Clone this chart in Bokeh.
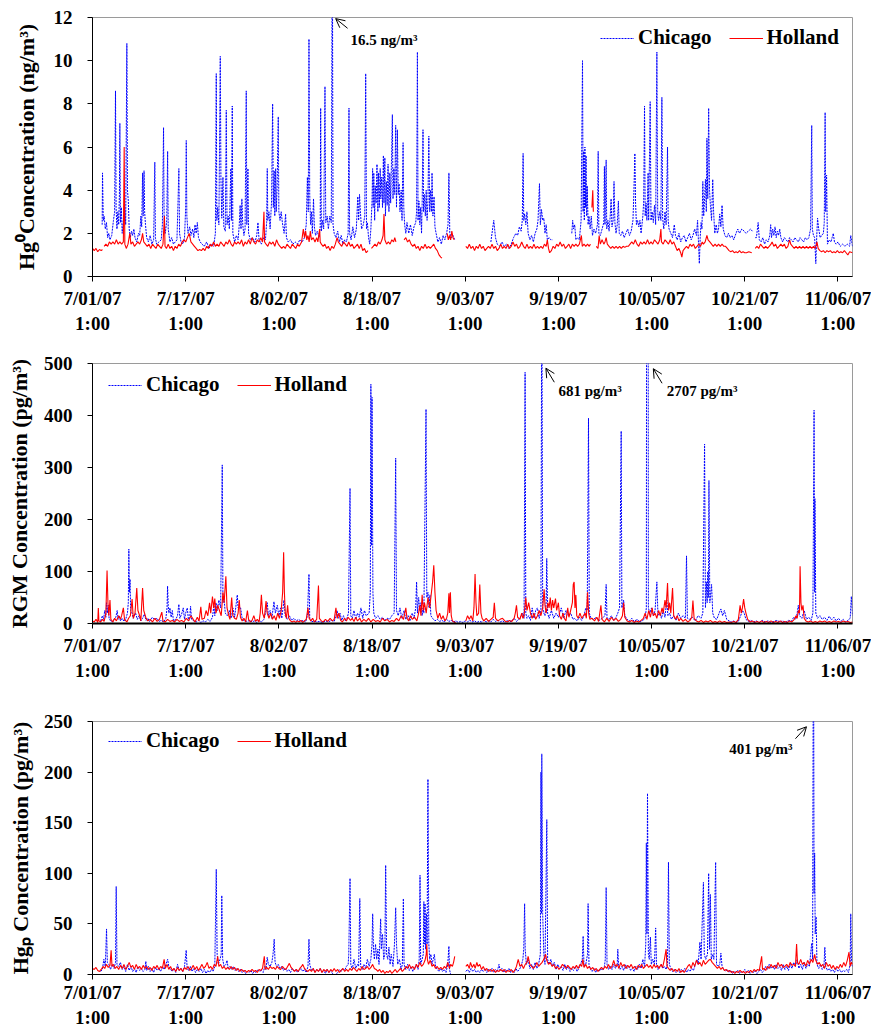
import numpy as np
from bokeh.plotting import figure
from bokeh.layouts import column
from bokeh.models import (ColumnDataSource, FixedTicker, Range1d, Legend, LegendItem,
                          Label, Arrow, OpenHead)
from bokeh.embed import file_html
from bokeh.resources import INLINE

nan = float("nan")

# x axis: days since 7/01/07 1:00
tick_days = [0, 16, 32, 48, 64, 80, 96, 112, 128]
tick_labels = ["7/01/07\n1:00", "7/17/07\n1:00", "8/02/07\n1:00", "8/18/07\n1:00",
               "9/03/07\n1:00", "9/19/07\n1:00", "10/05/07\n1:00", "10/21/07\n1:00",
               "11/06/07\n1:00"]

# ---------------- Hg0 (ng/m3) ----------------
chicago_hg0 = [
 (1.66,2.4),(1.72,4.8),(1.85,2.6),(2.0,2.8),(2.2,2.2),(2.4,2.5),(2.6,1.8),(2.8,2.0),(3.0,1.7),(3.3,1.9),
 (3.6,2.6),(3.8,3.0),(3.95,8.6),(4.05,3.2),(4.2,2.2),(4.35,3.0),(4.5,2.4),(4.62,3.8),(4.7,7.1),(4.8,2.5),
 (4.95,3.2),(5.1,2.0),(5.3,2.6),(5.5,3.4),(5.7,2.4),(5.9,10.8),(6.0,4.0),(6.15,3.5),(6.3,2.2),(6.5,1.8),
 (6.7,2.1),(6.9,1.9),(7.1,2.2),(7.3,1.8),(7.6,1.6),(7.9,2.0),(8.1,1.9),(8.3,2.8),(8.45,2.3),(8.6,4.8),
 (8.7,2.8),(8.85,4.9),(8.95,3.0),(9.1,2.4),(9.3,1.8),(9.6,1.6),(9.9,1.9),(10.2,1.5),(10.5,1.7),(10.7,5.3),
 (10.8,1.8),(11.0,1.5),(11.4,1.6),(11.8,1.7),(12.0,2.4),(12.2,6.9),(12.3,2.6),(12.5,2.0),(12.75,2.6),(12.9,5.8),
 (13.0,2.2),(13.3,1.6),(13.6,1.8),(13.9,1.5),(14.2,1.6),(14.5,1.7),(14.7,3.6),(14.83,5.0),(14.95,2.0),(15.2,1.6),
 (15.5,1.5),(15.8,1.8),(16.0,3.2),(16.1,6.3),(16.2,2.8),(16.4,2.0),(16.7,2.3),(16.9,1.9),(17.2,2.2),(17.4,1.8),
 (17.6,2.4),(17.8,2.0),(18.0,2.5),(18.2,1.8),(18.5,1.6),(18.8,1.5),(19.2,1.4),(19.6,1.6),(20.0,1.3),(20.4,1.5),
 (20.8,1.4),(21.1,2.0),(21.25,9.4),(21.35,2.6),(21.5,3.2),(21.7,2.4),(21.94,10.2),(22.05,4.6),(22.2,2.7),(22.4,4.6),
 (22.55,2.3),(22.8,2.1),(22.97,7.7),(23.1,2.4),(23.3,2.8),(23.5,2.2),(23.75,5.0),(23.85,2.6),(24.0,7.9),(24.1,2.0),
 (24.4,1.6),(24.7,1.9),(25.0,1.7),(25.2,2.4),(25.35,3.3),(25.5,2.2),(25.65,3.6),(25.8,2.4),(26.0,1.9),(26.2,2.2),
 (26.4,8.6),(26.5,2.4),(26.69,5.0),(26.8,2.0),(27.1,1.7),(27.5,1.8),(27.9,1.6),(28.2,1.9),(28.41,2.5),(28.6,1.7),
 (29.0,1.5),(29.4,1.8),(29.7,1.7),(29.9,2.5),(30.01,5.0),(30.1,2.6),(30.3,3.0),(30.5,2.2),(30.75,3.5),(30.93,8.0),
 (31.05,3.2),(31.2,4.9),(31.3,2.8),(31.45,5.0),(31.55,3.0),(31.7,4.2),(31.9,7.4),(32.0,3.0),(32.2,2.6),(32.4,3.0),
 (32.6,2.5),(32.9,2.0),(33.16,2.9),(33.3,1.8),(33.6,1.6),(34.0,1.7),(34.4,1.5),(34.8,1.6),(35.2,1.5),(35.6,1.7),
 (36.0,1.6),(36.4,1.8),(36.7,2.4),(36.9,4.6),(37.05,3.0),(37.17,11.0),(37.3,3.8),(37.45,2.4),(37.6,3.0),(37.75,2.0),
 (37.95,3.6),(38.1,2.3),(38.3,1.9),(38.6,2.1),(38.9,1.8),(39.1,2.3),(39.18,7.8),(39.3,2.1),(39.5,2.6),(39.7,2.2),
 (39.92,8.8),(40.05,2.5),(40.3,2.8),(40.5,2.2),(40.75,2.8),(41.0,2.5),(41.18,16.5),(41.3,2.4),(41.5,2.0),(41.8,1.8),
 (42.1,2.1),(42.4,1.6),(42.7,1.9),(43.0,1.5),(43.3,1.7),(43.6,1.6),(43.9,2.0),(44.04,7.8),(44.15,2.0),(44.4,1.7),
 (44.7,2.3),(45.0,1.8),(45.3,2.2),(45.55,3.7),(45.7,2.6),(45.85,3.8),(46.0,3.0),(46.2,2.2),(46.5,2.4),(46.75,2.8),
 (46.91,9.4),(47.05,2.2),(47.2,2.5),(47.4,1.8),(47.6,1.5),(47.8,2.2),(48.0,3.5),(48.1,5.0),(48.2,3.2),(48.3,4.8),
 (48.45,2.6),(48.55,4.2),(48.7,3.4),(48.85,5.2),(49.0,3.0),(49.1,4.8),(49.25,3.2),(49.4,5.0),(49.5,3.6),(49.65,4.6),
 (49.8,3.2),(49.95,5.6),(50.05,3.4),(50.2,5.5),(50.3,2.8),(50.45,4.4),(50.6,3.3),(50.75,5.2),(50.9,3.0),(51.05,4.8),
 (51.2,3.4),(51.35,5.5),(51.49,7.5),(51.6,3.6),(51.75,5.0),(51.9,3.8),(52.06,7.0),(52.2,3.2),(52.35,6.8),(52.5,3.8),
 (52.65,4.3),(52.8,3.0),(53.0,4.0),(53.15,2.6),(53.33,6.2),(53.45,3.2),(53.6,2.4),(53.8,2.0),(54.0,2.5),(54.3,2.0),
 (54.6,2.4),(54.9,1.9),(55.2,2.3),(55.5,2.5),(55.65,3.0),(55.79,10.4),(55.9,2.6),(56.05,3.5),(56.2,2.4),(56.35,3.2),
 (56.5,2.0),(56.62,3.6),(56.75,6.8),(56.85,3.0),(57.0,3.8),(57.15,2.8),(57.3,4.0),(57.45,2.6),(57.6,3.5),(57.75,6.5),
 (57.9,3.0),(58.05,4.0),(58.2,3.0),(58.3,4.8),(58.45,2.8),(58.65,3.7),(58.8,2.3),(59.0,2.0),(59.3,1.6),(59.6,1.8),
 (59.9,1.5),(60.2,1.9),(60.5,1.7),(60.8,2.0),(61.05,2.4),(61.2,4.8),(61.35,2.0),(61.6,1.8),(61.9,1.9),(62.2,1.7),
 (62.3,nan),
 (68.4,1.6),(68.6,2.0),(68.9,2.6),(69.2,1.8),(69.5,1.5),(69.9,1.4),(70.3,1.6),(70.7,1.4),(71.1,1.5),(71.5,1.3),
 (71.9,1.5),(72.3,1.8),(72.7,2.0),(73.0,1.9),(73.3,2.3),(73.6,2.1),(73.8,2.6),(73.94,5.7),(74.05,2.6),(74.2,2.9),
 (74.4,2.4),(74.6,3.0),(74.8,2.0),(75.1,1.7),(75.4,1.9),(75.7,1.6),(76.0,2.0),(76.3,2.2),(76.5,2.6),(76.75,4.3),
 (76.9,2.4),(77.1,3.1),(77.3,2.6),(77.5,2.7),(77.7,2.0),(77.9,2.4),(78.1,1.7),(78.4,1.8),(78.7,1.7),(79.0,1.7),
 (79.1,nan),
 (82.3,2.0),(82.45,2.6),(82.6,2.2),(82.8,2.4),(83.0,1.7),(83.3,1.8),(83.6,1.7),(83.9,2.6),(84.14,10.0),(84.25,3.0),
 (84.35,5.8),(84.45,2.6),(84.55,6.0),(84.65,3.2),(84.75,5.6),(84.85,2.8),(84.95,4.2),(85.1,2.4),(85.25,2.8),(85.45,2.2),
 (85.65,2.8),(85.85,1.9),(86.1,2.2),(86.4,2.0),(86.7,2.4),(86.83,5.8),(86.95,2.0),(87.2,1.9),(87.5,2.2),(87.8,2.5),
 (87.9,5.1),(88.0,2.4),(88.2,5.4),(88.3,2.2),(88.5,2.6),(88.7,2.1),(88.9,2.8),(89.05,3.6),(89.2,2.3),(89.4,2.6),
 (89.55,4.4),(89.7,2.5),(89.9,2.0),(90.1,2.4),(90.3,3.5),(90.45,2.0),(90.7,1.9),(91.0,2.1),(91.3,1.8),(91.6,2.0),
 (91.9,2.2),(92.2,1.9),(92.5,2.1),(92.8,2.6),(92.95,3.8),(93.13,5.7),(93.25,3.4),(93.4,2.4),(93.6,2.6),(93.8,2.3),
 (94.0,2.6),(94.2,2.0),(94.5,2.8),(94.65,3.5),(94.79,7.9),(94.9,2.8),(95.05,3.4),(95.2,2.6),(95.4,4.8),(95.5,2.6),
 (95.76,8.1),(95.9,2.6),(96.1,3.0),(96.3,2.5),(96.5,3.3),(96.7,2.4),(96.91,10.4),(97.05,3.0),(97.2,2.6),(97.4,3.0),
 (97.6,2.6),(97.77,8.3),(97.9,2.7),(98.1,2.2),(98.3,3.0),(98.5,2.4),(98.74,6.0),(98.85,2.6),(99.0,2.2),(99.3,2.0),
 (99.6,1.8),(99.9,2.4),(100.1,1.9),(100.4,1.7),(100.7,2.0),(101.0,1.6),(101.3,1.8),(101.6,1.9),(101.9,1.6),(102.2,1.8),
 (102.5,2.0),(102.8,1.7),(103.1,1.9),(103.4,2.2),(103.7,1.9),(103.9,2.6),(104.2,0.6),(104.35,1.8),(104.5,2.5),(104.65,2.2),
 (104.8,4.4),(104.95,2.8),(105.1,3.6),(105.25,4.5),(105.4,3.0),(105.5,6.4),(105.65,3.6),(105.8,7.8),(105.95,4.0),(106.1,3.3),
 (106.3,2.6),(106.5,4.5),(106.65,3.0),(106.85,2.0),(107.1,2.4),(107.3,2.0),(107.5,2.2),(107.7,2.9),(107.9,2.3),(108.1,3.3),
 (108.3,2.2),(108.6,1.9),(108.9,1.8),(109.2,2.0),(109.5,1.8),(109.8,1.9),(110.1,1.7),(110.5,2.0),(110.8,2.2),(111.1,2.0),
 (111.5,2.2),(111.9,2.1),(112.2,2.0),(112.6,2.1),(113.0,2.2),(113.3,2.1),(113.4,nan),
 (113.8,1.8),(114.0,1.8),(114.3,2.5),(114.5,1.7),(114.8,1.6),(115.1,1.8),(115.4,1.5),(115.7,1.7),(116.0,1.6),(116.3,1.9),
 (116.45,2.4),(116.6,1.8),(116.8,2.2),(117.0,1.9),(117.2,2.3),(117.4,1.8),(117.6,2.1),(117.8,1.9),(118.0,2.2),(118.2,1.8),
 (118.5,1.6),(118.8,1.8),(119.1,1.7),(119.4,1.6),(119.7,1.8),(120.0,1.7),(120.3,1.6),(120.6,1.8),(120.9,1.7),(121.2,1.6),
 (121.5,1.8),(121.8,1.7),(122.1,1.6),(122.4,1.8),(122.7,1.7),(123.0,1.8),(123.3,2.2),(123.5,7.0),(123.6,2.2),(123.8,1.9),
 (124.0,1.8),(124.2,0.6),(124.35,1.8),(124.5,2.7),(124.7,2.2),(124.95,1.8),(125.2,1.9),(125.5,2.0),(125.65,2.5),(125.8,7.6),
 (125.9,3.0),(126.05,4.7),(126.2,1.5),(126.5,1.7),(126.8,1.6),(127.0,1.8),(127.2,2.0),(127.4,1.6),(127.7,1.5),(128.0,1.6),
 (128.4,1.4),(128.8,1.5),(129.2,1.4),(129.6,1.5),(130.0,1.4),(130.2,1.9),(130.5,1.4)]

holland_hg0 = [
 (0.0,1.3),(0.3,1.2),(0.6,1.3),(0.9,1.15),(1.2,1.25),(1.5,1.2),(1.7,1.25),(1.8,nan),(2.0,1.4),(2.3,1.5),
 (2.6,1.4),(2.9,1.6),(3.2,1.5),(3.5,1.6),(3.8,1.5),(4.1,1.7),(4.4,1.5),(4.7,1.6),(5.0,1.5),(5.3,1.6),
 (5.44,6.0),(5.55,1.5),(5.8,1.3),(6.1,1.5),(6.4,2.0),(6.6,1.5),(6.9,1.6),(7.2,1.4),(7.5,1.5),(7.8,1.6),
 (8.1,1.5),(8.4,1.7),(8.6,2.0),(8.8,1.6),(9.1,1.5),(9.4,1.4),(9.7,1.5),(10.0,1.3),(10.3,1.5),(10.6,1.4),
 (10.9,1.3),(11.2,1.5),(11.5,1.4),(11.8,1.3),(12.1,1.5),(12.35,2.8),(12.45,1.4),(12.7,1.3),(13.0,1.5),(13.3,1.3),
 (13.6,1.4),(13.9,1.2),(14.2,1.4),(14.5,1.3),(14.8,1.5),(15.1,1.4),(15.4,1.6),(15.7,1.7),(16.0,1.6),(16.3,1.8),
 (16.6,2.0),(16.9,1.6),(17.2,1.5),(17.5,1.4),(17.8,1.3),(18.1,1.2),(18.4,1.25),(18.7,1.2),(19.0,1.3),(19.3,1.2),
 (19.6,1.4),(19.9,1.3),(20.2,1.5),(20.5,1.4),(20.8,1.6),(21.1,1.4),(21.4,1.5),(21.7,1.4),(22.0,1.6),(22.3,1.5),
 (22.6,1.4),(22.9,1.6),(23.2,1.5),(23.5,1.7),(23.8,1.5),(24.1,1.4),(24.4,1.6),(24.7,1.5),(25.0,1.6),(25.3,1.5),
 (25.6,1.7),(25.9,1.4),(26.2,1.6),(26.5,1.5),(26.8,1.7),(27.1,1.5),(27.4,1.8),(27.7,1.6),(28.0,1.5),(28.3,1.7),
 (28.6,1.6),(28.9,1.8),(29.2,1.6),(29.44,3.0),(29.55,1.6),(29.8,1.5),(30.1,1.4),(30.4,1.6),(30.7,1.5),(31.0,1.6),
 (31.3,1.4),(31.6,1.7),(31.9,1.5),(32.2,1.4),(32.5,1.3),(32.8,1.4),(33.1,1.3),(33.4,1.5),(33.7,1.4),(34.0,1.3),
 (34.3,1.5),(34.6,1.4),(34.9,1.3),(35.2,1.5),(35.5,1.4),(35.9,1.6),(36.2,2.2),(36.4,1.8),(36.6,2.1),(36.8,1.7),
 (37.0,1.9),(37.2,1.6),(37.4,2.1),(37.6,1.7),(37.9,1.8),(38.2,1.6),(38.5,1.8),(38.7,1.6),(39.0,2.2),(39.1,1.6),
 (39.3,1.5),(39.6,1.4),(39.9,1.5),(40.2,1.3),(40.5,1.4),(40.8,1.2),(41.1,1.4),(41.4,1.3),(41.7,1.5),(42.0,1.8),
 (42.2,1.6),(42.5,1.5),(42.8,1.4),(43.1,1.6),(43.4,1.5),(43.7,1.4),(44.0,1.6),(44.3,1.4),(44.6,1.5),(44.9,1.3),
 (45.2,1.4),(45.5,1.5),(45.8,1.3),(46.1,1.5),(46.4,1.2),(46.7,1.3),(47.0,1.1),(47.3,1.2),(47.5,nan),(47.9,1.3),
 (48.2,1.4),(48.5,1.5),(48.8,1.4),(49.1,1.6),(49.4,1.5),(49.7,1.7),(49.9,1.9),(50.05,2.9),(50.2,1.7),(50.5,1.5),
 (50.8,1.6),(51.1,1.5),(51.4,1.7),(51.7,1.6),(51.9,1.8),(52.1,1.6),(52.3,nan),(53.5,1.7),(53.8,1.8),(54.1,1.6),
 (54.4,1.7),(54.7,1.5),(55.0,1.4),(55.3,1.5),(55.6,1.3),(55.9,1.4),(56.2,1.2),(56.5,1.4),(56.8,1.3),(57.1,1.5),
 (57.4,1.3),(57.7,1.4),(58.0,1.3),(58.3,1.4),(58.6,1.5),(58.9,1.3),(59.2,1.2),(59.5,1.0),(59.8,0.9),(60.0,0.85),
 (60.2,nan),(60.9,2.0),(61.1,1.7),(61.3,1.9),(61.5,1.7),(61.7,2.1),(61.9,1.8),(62.1,1.7),(62.2,nan),
 (64.1,1.4),(64.4,1.3),(64.7,1.5),(65.0,1.3),(65.3,1.4),(65.6,1.2),(65.9,1.4),(66.2,1.3),(66.5,1.5),(66.8,1.3),
 (67.1,1.4),(67.4,1.2),(67.7,1.3),(68.0,1.4),(68.3,1.3),(68.6,1.5),(68.9,1.3),(69.2,1.4),(69.5,1.2),(69.8,1.3),
 (70.1,1.5),(70.4,1.3),(70.7,1.4),(71.0,1.3),(71.3,1.5),(71.6,1.3),(71.9,1.4),(72.2,1.6),(72.5,1.4),(72.8,1.5),
 (73.1,1.3),(73.4,1.4),(73.7,1.6),(74.0,1.4),(74.3,1.3),(74.6,1.5),(74.9,1.3),(75.2,1.4),(75.5,1.3),(75.8,1.5),
 (76.1,1.3),(76.4,1.4),(76.7,1.3),(77.0,1.4),(77.3,1.3),(77.6,1.5),(77.9,1.4),(78.1,1.7),(78.3,1.3),(78.5,1.1),
 (78.8,1.2),(79.1,1.4),(79.4,1.3),(79.7,1.5),(80.0,1.4),(80.3,1.6),(80.6,1.4),(80.9,1.5),(81.2,1.3),(81.5,1.4),
 (81.8,1.5),(82.1,1.3),(82.4,1.5),(82.7,1.4),(83.0,1.5),(83.3,1.4),(83.6,1.5),(83.95,1.9),(84.1,1.4),(84.4,1.5),
 (84.7,1.4),(85.0,1.5),(85.3,1.4),(85.5,1.5),(85.6,nan),(85.75,3.2),(85.9,4.0),(86.0,3.0),(86.2,nan),(86.5,1.4),
 (86.8,1.3),(87.0,1.9),(87.2,1.5),(87.5,1.7),(87.8,1.5),(88.0,1.6),(88.2,1.8),(88.4,1.5),(88.7,1.4),(89.0,1.3),
 (89.3,1.4),(89.6,1.3),(89.9,1.4),(90.2,1.3),(90.5,1.4),(90.8,1.3),(91.1,1.4),(91.4,1.35),(91.7,1.4),(92.0,1.4),
 (92.3,1.5),(92.6,1.6),(92.9,1.5),(93.2,1.7),(93.5,1.5),(93.8,1.4),(94.1,1.6),(94.4,1.5),(94.7,1.6),(95.0,1.5),
 (95.3,1.7),(95.6,1.5),(95.9,1.6),(96.2,1.5),(96.5,1.7),(96.8,1.6),(97.1,1.5),(97.4,1.7),(97.6,2.2),(97.7,1.6),
 (98.0,1.5),(98.3,1.7),(98.6,1.6),(98.9,1.5),(99.2,1.7),(99.5,1.5),(99.8,1.6),(100.1,1.4),(100.4,1.2),(100.7,1.3),
 (101.0,1.1),(101.2,0.9),(101.4,1.2),(101.7,1.3),(102.0,1.4),(102.3,1.3),(102.6,1.5),(102.9,1.4),(103.2,1.5),(103.5,1.3),
 (103.8,1.4),(104.1,1.5),(104.4,1.4),(104.7,1.6),(104.9,1.5),(105.2,1.6),(105.5,1.9),(105.7,1.7),(106.0,1.6),(106.3,1.5),
 (106.6,1.4),(106.9,1.5),(107.2,1.4),(107.5,1.5),(107.8,1.4),(108.1,1.5),(108.4,1.4),(108.7,1.4),(109.0,1.3),(109.3,1.2),
 (109.6,1.15),(109.9,1.2),(110.2,1.1),(110.5,1.15),(110.8,1.1),(111.1,1.2),(111.4,1.1),(111.7,1.15),(112.0,1.1),(112.3,1.1),
 (112.7,1.15),(113.2,1.1),(113.4,nan),(113.8,1.3),(114.1,1.4),(114.4,1.3),(114.7,1.5),(115.0,1.4),(115.3,1.3),(115.6,1.4),
 (115.9,1.3),(116.2,1.4),(116.5,1.5),(116.7,1.6),(117.0,1.4),(117.3,1.5),(117.6,1.3),(117.9,1.4),(118.2,1.5),(118.5,1.4),
 (118.8,1.5),(119.1,1.3),(119.4,1.4),(119.7,1.7),(119.9,1.5),(120.2,1.4),(120.5,1.3),(120.8,1.4),(121.1,1.3),(121.4,1.4),
 (121.7,1.3),(122.0,1.4),(122.3,1.3),(122.6,1.4),(122.9,1.3),(123.2,1.4),(123.5,1.3),(123.8,1.4),(124.1,1.3),(124.4,1.6),
 (124.6,1.3),(124.9,1.2),(125.2,1.15),(125.5,1.2),(125.8,1.1),(126.1,1.2),(126.4,1.15),(126.7,1.2),(127.0,1.1),(127.3,1.15),
 (127.6,1.1),(127.9,1.2),(128.2,1.1),(128.5,1.15),(128.8,1.1),(129.1,1.2),(129.4,1.1),(129.7,1.0),(130.0,1.15),(130.5,1.1)]

# ---------------- RGM (pg/m3) ----------------
chicago_rgm = [
 (1.4,5),(1.7,15),(1.9,8),(2.1,25),(2.3,12),(2.41,40),(2.55,20),(2.7,35),(2.85,10),(3.1,5),(3.4,3),(3.7,8),(4.0,12),
 (4.24,25),(4.4,8),(4.6,15),(4.8,5),(5.1,10),(5.4,4),(5.7,8),(6.0,20),(6.15,40),(6.24,143),(6.35,60),(6.45,85),
 (6.55,25),(6.8,20),(7.0,10),(7.4,20),(7.7,8),(8.0,15),(8.3,5),(8.6,10),(8.9,18),(9.2,6),(9.5,10),(9.8,4),(10.25,12),
 (10.6,8),(11.1,10),(11.4,4),(11.8,6),(12.2,3),(12.6,10),(12.8,30),(12.89,72),(13.0,35),(13.12,20),(13.3,30),(13.5,12),
 (13.7,25),(13.9,5),(14.3,8),(14.6,15),(14.83,37),(15.0,10),(15.3,18),(15.58,30),(15.8,8),(16.0,20),(16.27,30),(16.5,5),
 (16.7,12),(16.84,33),(17.0,8),(17.41,5),(17.8,3),(18.2,6),(18.6,2),(19.0,5),(19.4,3),(19.8,8),(20.2,4),(20.6,12),
 (20.85,35),(21.0,15),(21.2,40),(21.42,25),(21.7,45),(22.0,30),(22.28,305),(22.4,40),(22.57,50),(22.8,20),(23.14,15),
 (23.5,25),(23.8,10),(24.1,30),(24.4,12),(24.7,40),(24.86,55),(25.0,30),(25.43,30),(25.7,10),(26.0,5),(26.57,4),(27.0,6),
 (27.4,3),(27.8,5),(28.2,2),(28.6,6),(29.0,3),(29.44,8),(29.7,20),(30.01,40),(30.2,15),(30.5,25),(30.8,10),(31.16,42),
 (31.4,20),(31.73,35),(32.0,15),(32.3,30),(32.5,10),(32.88,45),(33.1,15),(33.45,8),(33.8,15),(34.2,6),(34.59,10),(35.0,5),
 (35.4,8),(35.8,4),(36.2,6),(36.6,3),(36.9,15),(37.17,95),(37.3,10),(37.6,3),(38.0,5),(38.5,3),(39.0,4),(39.5,2),(40.0,5),
 (40.5,3),(41.0,6),(41.5,4),(41.8,15),(42.0,25),(42.2,10),(42.5,20),(42.8,6),(43.1,15),(43.4,5),(43.7,10),(43.95,20),
 (44.22,260),(44.35,15),(44.6,10),(44.9,25),(45.2,8),(45.5,20),(45.8,12),(46.1,30),(46.4,10),(46.7,25),(47.0,15),(47.5,20),
 (47.7,60),(47.8,460),(47.9,150),(48.0,435),(48.15,60),(48.3,20),(48.6,10),(49.0,15),(49.4,8),(49.8,12),(50.2,6),(50.6,10),
 (51.0,8),(51.4,15),(51.8,20),(52.06,318),(52.2,25),(52.5,15),(52.8,30),(53.1,10),(53.5,25),(53.8,8),(54.2,15),(54.5,5),
 (54.9,20),(55.2,10),(55.5,30),(55.65,80),(55.8,20),(56.0,50),(56.2,25),(56.4,40),(56.6,15),(56.75,30),(56.9,20),(57.27,412),
 (57.4,50),(57.6,60),(57.8,30),(57.95,55),(58.1,15),(58.4,10),(58.8,5),(59.2,8),(59.6,4),(60.0,6),(60.4,3),(60.8,8),(61.2,4),
 (61.6,6),(62.0,3),(62.4,5),(62.8,2),(63.2,4),(63.6,2),(64.0,5),(64.4,3),(64.8,6),(65.2,3),(65.6,5),(66.0,2),(66.4,4),
 (66.8,3),(67.2,6),(67.6,3),(68.0,5),(68.4,3),(68.8,8),(69.2,4),(69.6,6),(70.0,3),(70.4,5),(70.8,2),(71.2,6),(71.6,3),
 (72.0,5),(72.4,10),(72.8,4),(73.2,8),(73.6,15),(73.9,20),(74.1,10),(74.28,483),(74.4,20),(74.6,10),(74.9,15),(75.2,6),
 (75.5,30),(75.8,10),(76.1,25),(76.4,30),(76.7,10),(77.0,25),(77.15,681),(77.3,30),(77.5,20),(77.7,15),(77.9,40),(78.0,125),
 (78.15,20),(78.4,10),(78.8,25),(79.2,10),(79.6,20),(80.0,12),(80.5,30),(80.9,10),(81.3,25),(81.7,15),(82.1,20),(82.5,8),
 (82.8,10),(83.2,5),(83.6,12),(84.0,6),(84.4,15),(84.7,30),(84.95,25),(85.17,395),(85.3,20),(85.6,10),(86.0,8),(86.5,12),
 (87.0,6),(87.5,10),(88.0,15),(88.2,75),(88.35,10),(88.7,8),(89.1,15),(89.5,6),(89.9,12),(90.2,20),(90.5,30),(90.78,370),
 (90.9,30),(91.2,45),(91.4,15),(91.8,8),(92.2,5),(92.6,10),(93.0,4),(93.5,8),(94.0,3),(94.5,6),(94.9,10),(95.1,30),
 (95.3,2707),(95.45,30),(95.7,20),(96.0,30),(96.3,15),(96.6,25),(96.91,80),(97.1,15),(97.4,20),(97.7,10),(98.0,25),(98.3,12),
 (98.6,45),(98.8,15),(99.1,20),(99.4,8),(99.8,15),(100.2,6),(100.6,20),(101.0,10),(101.4,15),(101.8,10),(102.0,130),
 (102.15,10),(102.5,8),(103.0,12),(103.5,5),(104.0,15),(104.5,10),(104.8,20),(105.1,345),(105.25,30),(105.4,80),(105.55,40),
 (105.65,100),(105.75,50),(105.85,275),(106.0,40),(106.3,75),(106.5,20),(106.8,10),(107.2,8),(107.6,20),(107.9,28),(108.2,15),
 (108.5,25),(108.9,8),(109.3,5),(109.7,3),(110.1,5),(110.5,2),(110.9,4),(111.3,15),(111.6,25),(111.9,20),(112.2,8),(112.6,4),
 (113.0,6),(113.5,3),(114.0,5),(114.5,2),(115.0,6),(115.5,3),(116.0,5),(116.5,2),(117.0,4),(117.5,6),(118.0,3),(118.5,5),
 (119.0,2),(119.5,6),(120.0,4),(120.4,12),(120.8,8),(121.0,20),(121.2,35),(121.4,15),(121.8,10),(122.2,25),(122.6,8),
 (123.0,12),(123.4,6),(123.7,20),(123.9,410),(124.0,60),(124.05,240),(124.2,20),(124.5,10),(124.9,15),(125.3,8),(125.7,12),
 (126.1,6),(126.5,14),(126.9,7),(127.3,12),(127.7,5),(128.1,10),(128.5,4),(128.9,8),(129.3,3),(129.7,6),(130.1,10),
 (130.3,52),(130.5,15)]

holland_rgm = [
 (0.0,5),(0.3,3),(0.6,8),(0.9,2),(1.0,30),(1.1,5),(1.4,3),(1.7,8),(2.0,4),(2.3,20),(2.5,102),(2.65,40),(2.8,15),(3.0,45),
 (3.15,8),(3.5,3),(3.8,10),(4.1,5),(4.5,15),(4.8,8),(5.0,15),(5.3,30),(5.5,8),(5.9,3),(6.2,10),(6.5,15),(6.8,47),(7.0,10),
 (7.3,20),(7.6,68),(7.8,25),(8.1,15),(8.3,5),(8.6,68),(8.8,25),(9.2,10),(9.5,5),(9.9,8),(10.3,3),(10.7,10),(11.1,4),(11.5,8),
 (11.9,22),(12.1,5),(12.5,3),(12.9,8),(13.3,4),(13.7,6),(14.1,3),(14.5,8),(14.9,4),(15.3,6),(15.7,3),(16.1,10),(16.5,5),
 (16.9,15),(17.3,8),(17.6,3),(18.0,12),(18.3,5),(18.6,32),(18.8,8),(19.2,10),(19.5,25),(19.8,15),(20.1,40),(20.3,20),
 (20.6,52),(20.8,30),(21.0,48),(21.2,20),(21.5,35),(21.8,25),(22.1,15),(22.4,60),(22.6,40),(22.9,91),(23.1,30),(23.4,15),
 (23.6,8),(23.9,50),(24.1,15),(24.4,10),(24.7,8),(25.0,20),(25.2,45),(25.4,12),(25.7,5),(26.0,10),(26.3,3),(26.6,25),
 (26.8,8),(27.1,3),(27.4,6),(27.7,15),(28.0,4),(28.3,8),(28.6,3),(28.8,20),(29.0,55),(29.2,20),(29.5,10),(29.8,43),(30.0,20),
 (30.3,10),(30.6,20),(30.9,8),(31.2,15),(31.5,6),(31.8,20),(32.1,10),(32.4,25),(32.65,60),(32.82,137),(32.95,60),(33.1,20),
 (33.3,10),(33.5,35),(33.7,10),(34.0,5),(34.3,3),(34.6,5),(34.9,2),(35.2,5),(35.5,3),(35.8,6),(36.1,2),(36.4,5),(36.7,8),
 (37.0,30),(37.2,10),(37.5,5),(37.8,10),(38.1,3),(38.5,8),(38.8,73),(38.95,10),(39.3,5),(39.6,3),(40.0,8),(40.4,4),(40.8,10),
 (41.2,5),(41.5,8),(41.8,30),(42.0,10),(42.3,20),(42.6,6),(42.9,3),(43.3,10),(43.6,5),(43.9,12),(44.3,6),(44.6,10),(44.9,4),
 (45.2,12),(45.5,5),(45.9,10),(46.2,3),(46.6,8),(47.0,4),(47.4,10),(47.8,3),(48.2,8),(48.6,4),(49.0,6),(49.4,3),(49.8,10),
 (50.2,5),(50.6,8),(51.0,3),(51.4,6),(51.8,4),(52.2,10),(52.6,5),(53.0,15),(53.4,8),(53.8,30),(54.0,10),(54.3,5),(54.6,15),
 (54.9,8),(55.3,12),(55.7,5),(56.0,20),(56.2,35),(56.4,15),(56.6,55),(56.8,25),(57.0,40),(57.3,20),(57.6,50),(57.9,30),
 (58.2,60),(58.4,80),(58.6,112),(58.8,60),(59.0,25),(59.3,10),(59.6,20),(59.9,8),(60.2,15),(60.5,5),(60.8,10),(61.0,20),
 (61.2,58),(61.3,20),(61.45,60),(61.6,15),(61.8,5),(62.1,3),(62.4,0),(62.6,nan),
 (64.1,5),(64.4,15),(64.7,8),(65.0,15),(65.3,5),(65.5,30),(65.69,95),(65.85,40),(66.0,15),(66.3,20),(66.5,75),(66.7,20),
 (66.9,10),(67.2,5),(67.6,10),(68.0,4),(68.4,8),(68.8,12),(69.0,40),(69.2,10),(69.6,5),(70.0,8),(70.4,10),(70.8,5),(71.2,3),
 (71.6,6),(72.0,4),(72.4,10),(72.6,20),(72.8,35),(73.0,12),(73.4,8),(73.7,20),(73.9,10),(74.1,15),(74.4,50),(74.6,25),
 (74.9,40),(75.2,20),(75.5,10),(75.8,20),(76.1,8),(76.4,15),(76.7,25),(77.0,15),(77.3,30),(77.55,66),(77.7,35),(77.9,20),
 (78.2,40),(78.4,30),(78.6,50),(78.8,25),(79.0,45),(79.2,30),(79.5,48),(79.7,25),(80.0,40),(80.2,15),(80.5,8),(80.8,20),
 (81.0,10),(81.3,5),(81.6,30),(81.8,12),(82.0,20),(82.4,40),(82.55,75),(82.7,80),(82.85,30),(83.0,55),(83.15,15),(83.4,10),
 (83.7,20),(84.0,10),(84.3,15),(84.6,20),(84.8,10),(85.0,60),(85.2,20),(85.4,8),(85.8,10),(86.2,5),(86.6,12),(86.9,4),
 (87.3,35),(87.5,8),(87.9,3),(88.3,10),(88.7,4),(89.1,12),(89.5,6),(89.9,10),(90.3,4),(90.7,8),(91.0,15),(91.2,40),(91.4,12),
 (91.8,5),(92.2,3),(92.6,6),(93.0,2),(93.4,5),(93.8,3),(94.2,6),(94.6,10),(94.9,20),(95.2,8),(95.5,25),(95.8,12),(96.1,30),
 (96.3,15),(96.6,20),(96.9,10),(97.2,25),(97.5,15),(97.8,30),(98.0,20),(98.3,45),(98.5,30),(98.74,78),(98.9,25),(99.1,40),
 (99.3,20),(99.6,68),(99.8,15),(100.1,8),(100.4,15),(100.7,5),(101.0,10),(101.4,4),(101.8,8),(102.2,3),(102.6,6),(102.9,12),
 (103.1,44),(103.3,10),(103.7,5),(104.1,3),(104.5,6),(104.9,2),(105.3,5),(105.7,3),(106.1,6),(106.5,2),(106.9,4),(107.3,2),
 (107.7,5),(108.1,2),(108.5,4),(108.9,2),(109.3,3),(109.7,2),(110.1,4),(110.5,2),(110.9,8),(111.2,35),(111.4,20),(111.6,30),
 (111.8,47),(112.0,30),(112.2,20),(112.5,8),(112.9,3),(113.3,5),(113.7,2),(114.1,4),(114.5,2),(114.9,5),(115.3,2),(115.7,4),
 (116.1,2),(116.5,5),(116.9,2),(117.3,4),(117.7,2),(118.1,5),(118.5,2),(118.9,4),(119.3,2),(119.7,5),(120.1,3),(120.5,8),
 (120.8,15),(121.0,10),(121.2,25),(121.4,20),(121.5,110),(121.65,40),(121.8,25),(122.0,35),(122.2,10),(122.5,5),(122.9,3),
 (123.3,5),(123.7,2),(124.1,4),(124.5,2),(124.9,5),(125.3,3),(125.7,5),(126.1,2),(126.5,4),(126.9,2),(127.3,5),(127.7,3),
 (128.1,4),(128.5,2),(128.9,5),(129.3,3),(129.7,4),(130.1,2),(130.5,3)]

# ---------------- Hgp (pg/m3) ----------------
chicago_hgp = [
 (1.4,3),(1.7,5),(1.95,15),(2.2,8),(2.41,45),(2.55,12),(2.8,10),(3.1,5),(3.4,10),(3.7,6),(3.95,12),(4.07,87),(4.2,10),
 (4.5,8),(4.8,12),(5.1,5),(5.4,8),(5.7,3),(6.0,10),(6.3,4),(6.6,8),(6.9,3),(7.2,6),(7.5,2),(7.8,8),(8.1,4),(8.4,6),(8.7,3),
 (9.0,5),(9.16,13),(9.3,4),(9.6,8),(9.9,3),(10.2,6),(10.5,2),(10.8,7),(11.1,4),(11.4,6),(11.7,3),(12.0,8),(12.3,5),(12.6,10),
 (12.9,15),(13.1,8),(13.4,5),(13.7,3),(14.0,6),(14.3,2),(14.6,10),(14.9,4),(15.2,6),(15.5,3),(15.8,8),(16.09,24),(16.25,6),
 (16.5,4),(16.8,8),(17.1,3),(17.4,6),(17.7,2),(18.0,5),(18.3,3),(18.6,6),(18.9,2),(19.2,5),(19.5,1),(19.8,4),(20.1,2),
 (20.4,5),(20.7,3),(21.0,8),(21.25,104),(21.4,20),(21.6,10),(21.9,15),(22.1,20),(22.2,78),(22.35,15),(22.6,8),(22.9,10),
 (23.1,14),(23.3,6),(23.6,8),(23.9,5),(24.2,8),(24.5,4),(24.8,6),(25.1,3),(25.4,5),(25.7,2),(26.0,4),(26.3,1),(26.6,3),
 (26.9,2),(27.2,4),(27.5,1),(27.8,3),(28.1,2),(28.4,5),(28.7,3),(29.0,4),(29.3,2),(29.6,8),(29.8,5),(30.0,17),(30.2,10),
 (30.5,8),(30.8,12),(31.0,20),(31.2,35),(31.35,12),(31.6,8),(31.9,10),(32.2,6),(32.5,8),(32.8,4),(33.1,6),(33.4,3),(33.7,5),
 (34.0,2),(34.3,6),(34.6,3),(34.9,5),(35.2,2),(35.5,4),(35.8,6),(36.1,3),(36.4,5),(36.7,2),(37.0,8),(37.17,35),(37.3,10),
 (37.6,4),(37.9,6),(38.2,2),(38.5,5),(38.8,3),(39.1,6),(39.4,2),(39.7,4),(40.0,1),(40.3,5),(40.6,2),(40.9,4),(41.2,1),
 (41.5,0),(41.8,0),(42.1,2),(42.4,5),(42.7,3),(43.0,6),(43.3,4),(43.6,8),(43.9,10),(44.0,20),(44.22,95),(44.35,10),(44.6,5),
 (44.9,15),(45.2,6),(45.5,10),(45.7,8),(45.9,75),(46.05,8),(46.3,5),(46.6,10),(46.9,6),(47.2,15),(47.5,8),(47.8,15),(48.0,30),
 (48.11,60),(48.25,25),(48.4,15),(48.6,30),(48.8,15),(49.0,25),(49.2,10),(49.48,55),(49.6,25),(49.8,40),(50.0,15),(50.2,20),
 (50.34,108),(50.5,20),(50.7,15),(50.9,27),(51.1,10),(51.3,20),(51.6,8),(51.85,30),(52.06,66),(52.2,30),(52.4,10),(52.7,15),
 (53.0,5),(53.2,10),(53.38,75),(53.5,10),(53.8,5),(54.1,10),(54.4,4),(54.7,8),(55.0,3),(55.3,6),(55.6,10),(55.9,5),(56.1,15),
 (56.24,98),(56.35,10),(56.6,15),(56.8,20),(56.9,72),(57.0,30),(57.1,70),(57.2,25),(57.35,60),(57.45,30),(57.6,193),(57.75,30),
 (57.9,15),(58.1,20),(58.3,10),(58.5,15),(58.7,20),(58.9,8),(59.2,5),(59.5,3),(59.8,6),(60.1,3),(60.4,5),(60.7,2),(61.0,10),
 (61.2,28),(61.3,5),(61.5,0),(61.7,nan),
 (64.1,3),(64.4,5),(64.7,2),(65.0,6),(65.3,3),(65.6,5),(65.9,2),(66.2,4),(66.5,2),(66.8,5),(67.1,3),(67.4,6),(67.7,2),
 (68.0,5),(68.3,3),(68.6,6),(68.9,2),(69.2,5),(69.5,3),(69.8,10),(70.0,4),(70.3,6),(70.6,2),(70.9,5),(71.2,3),(71.5,6),
 (71.8,2),(72.1,4),(72.4,2),(72.7,6),(73.0,3),(73.3,5),(73.6,8),(73.9,15),(74.05,25),(74.2,70),(74.3,25),(74.5,10),(74.8,15),
 (75.1,6),(75.4,10),(75.7,5),(76.0,12),(76.3,6),(76.6,10),(76.9,20),(77.0,200),(77.1,60),(77.15,218),(77.3,60),(77.5,20),
 (77.7,10),(78.01,153),(78.15,15),(78.4,10),(78.7,15),(79.0,8),(79.3,12),(79.6,5),(79.9,10),(80.2,6),(80.5,8),(80.8,4),
 (81.1,10),(81.4,5),(81.7,8),(82.0,3),(82.3,6),(82.6,4),(82.9,8),(83.2,3),(83.5,6),(83.8,10),(84.1,15),(84.25,38),(84.4,8),
 (84.7,10),(85.0,20),(85.1,70),(85.25,10),(85.5,5),(85.8,3),(86.1,6),(86.4,2),(86.7,5),(87.0,3),(87.3,6),(87.6,4),(87.9,8),
 (88.05,15),(88.2,86),(88.35,10),(88.6,5),(88.9,8),(89.2,5),(89.5,10),(89.8,6),(90.1,10),(90.2,25),(90.35,8),(90.6,5),
 (90.9,8),(91.2,4),(91.5,10),(91.8,6),(92.1,8),(92.4,4),(92.7,6),(93.0,3),(93.3,8),(93.6,5),(93.9,10),(94.2,6),(94.5,15),
 (94.8,8),(95.0,30),(95.1,130),(95.2,40),(95.3,179),(95.45,20),(95.6,15),(95.8,37),(95.95,10),(96.2,15),(96.5,10),(96.7,46),
 (96.85,10),(97.1,5),(97.4,8),(97.7,10),(97.9,6),(98.2,8),(98.5,5),(98.74,10),(98.9,111),(99.05,10),(99.3,6),(99.6,3),
 (99.9,5),(100.2,2),(100.5,4),(100.8,2),(101.1,5),(101.4,3),(101.7,6),(102.0,2),(102.3,5),(102.6,3),(102.9,6),(103.2,4),
 (103.5,10),(103.8,15),(104.0,10),(104.3,32),(104.5,15),(104.9,91),(105.05,20),(105.3,15),(105.6,20),(105.8,100),(105.95,25),
 (106.1,79),(106.25,15),(106.5,20),(106.7,15),(107.0,111),(107.15,10),(107.4,8),(107.7,10),(107.9,21),(108.1,8),(108.4,5),
 (108.7,3),(109.0,5),(109.3,2),(109.6,4),(109.9,1),(110.2,3),(110.5,2),(110.8,4),(111.1,1),(111.4,3),(111.7,2),(112.0,5),
 (112.3,2),(112.6,4),(112.9,1),(113.2,3),(113.5,2),(113.8,4),(114.1,1),(114.4,3),(114.7,5),(115.0,2),(115.3,4),(115.6,8),
 (115.9,5),(116.2,10),(116.5,6),(116.8,8),(117.1,5),(117.4,10),(117.7,6),(118.0,8),(118.3,4),(118.6,10),(118.9,5),(119.2,8),
 (119.5,4),(119.8,10),(120.1,6),(120.4,12),(120.7,8),(121.0,15),(121.3,6),(121.6,10),(121.9,5),(122.2,12),(122.5,6),(122.8,10),
 (123.1,8),(123.3,20),(123.5,31),(123.65,15),(123.8,401),(123.9,80),(124.0,120),(124.1,40),(124.25,57),(124.4,10),(124.7,6),
 (125.0,10),(125.3,5),(125.6,8),(125.75,27),(125.9,8),(126.2,4),(126.5,6),(126.8,3),(127.1,5),(127.4,2),(127.7,6),(128.0,3),
 (128.3,5),(128.6,2),(128.9,4),(129.2,3),(129.5,5),(129.8,2),(130.1,10),(130.2,60),(130.35,10),(130.5,8)]

holland_hgp = [
 (0.0,6),(0.3,5),(0.6,7),(0.9,4),(1.2,3),(1.5,5),(1.8,8),(2.1,6),(2.4,10),(2.7,7),(3.0,9),(3.2,24),(3.35,8),(3.6,10),
 (3.9,6),(4.2,8),(4.5,5),(4.8,9),(5.1,6),(5.4,10),(5.7,5),(6.0,8),(6.3,12),(6.6,7),(6.9,9),(7.2,5),(7.5,10),(7.8,6),(8.1,8),
 (8.4,5),(8.7,9),(9.0,6),(9.3,8),(9.6,5),(9.9,7),(10.2,4),(10.5,8),(10.8,6),(11.1,9),(11.4,5),(11.7,8),(12.0,6),(12.3,15),
 (12.5,6),(12.8,10),(13.1,5),(13.4,8),(13.7,4),(14.0,6),(14.3,3),(14.6,7),(14.9,4),(15.2,6),(15.5,3),(15.8,7),(16.1,5),
 (16.4,8),(16.7,4),(17.0,6),(17.3,9),(17.6,5),(17.9,8),(18.2,4),(18.5,7),(18.8,10),(19.1,6),(19.4,8),(19.7,12),(20.0,6),
 (20.3,8),(20.6,5),(20.9,10),(21.2,8),(21.5,18),(21.7,8),(22.0,10),(22.3,6),(22.6,8),(22.9,5),(23.2,7),(23.5,5),(23.8,8),
 (24.1,5),(24.4,7),(24.7,4),(25.0,6),(25.3,3),(25.6,5),(25.9,3),(26.2,4),(26.5,2),(26.8,4),(27.1,3),(27.4,5),(27.7,3),
 (28.0,4),(28.3,2),(28.6,5),(28.9,4),(29.2,6),(29.5,18),(29.65,5),(29.9,7),(30.2,5),(30.5,8),(30.8,6),(31.1,7),(31.4,5),
 (31.7,8),(32.0,6),(32.3,5),(32.6,8),(32.9,6),(33.2,5),(33.5,8),(33.8,11),(34.1,7),(34.4,5),(34.7,3),(35.0,5),(35.3,3),
 (35.6,6),(35.9,8),(36.1,10),(36.4,6),(36.7,4),(37.0,3),(37.3,5),(37.6,3),(37.9,6),(38.2,2),(38.5,5),(38.8,3),(39.1,6),
 (39.4,2),(39.7,5),(40.0,3),(40.3,5),(40.6,2),(40.9,5),(41.2,3),(41.5,6),(41.8,3),(42.1,5),(42.4,2),(42.7,4),(43.0,6),
 (43.3,3),(43.6,5),(43.9,3),(44.2,6),(44.5,4),(44.8,7),(45.1,5),(45.4,3),(45.7,6),(46.0,4),(46.3,8),(46.6,5),(46.9,6),
 (47.2,8),(47.5,5),(47.8,7),(48.1,10),(48.4,6),(48.7,5),(49.0,3),(49.3,5),(49.6,2),(49.9,4),(50.2,1),(50.5,3),(50.8,2),
 (51.1,4),(51.4,1),(51.7,3),(52.0,5),(52.3,2),(52.6,4),(52.9,6),(53.2,3),(53.5,5),(53.8,8),(54.1,6),(54.4,10),(54.7,6),
 (55.0,8),(55.3,5),(55.6,10),(55.9,7),(56.2,12),(56.5,8),(56.8,10),(57.1,14),(57.3,20),(57.4,30),(57.5,15),(57.7,10),
 (58.0,14),(58.3,8),(58.6,10),(58.9,6),(59.2,8),(59.5,5),(59.8,7),(60.1,5),(60.4,8),(60.7,6),(61.0,12),(61.3,6),(61.5,10),
 (61.8,8),(62.0,12),(62.2,18),(62.5,nan),
 (64.1,8),(64.4,10),(64.7,6),(64.9,12),(65.2,7),(65.5,10),(65.7,6),(66.0,12),(66.2,8),(66.5,10),(66.8,5),(67.1,8),(67.4,4),
 (67.7,6),(68.0,3),(68.3,5),(68.6,3),(68.9,5),(69.2,2),(69.5,4),(69.8,3),(70.1,5),(70.4,3),(70.7,5),(71.0,2),(71.3,4),
 (71.6,3),(71.9,5),(72.2,2),(72.5,4),(72.8,8),(73.1,15),(73.4,8),(73.7,10),(74.0,6),(74.3,10),(74.6,12),(74.8,18),(75.1,10),
 (75.4,8),(75.7,6),(76.0,8),(76.3,12),(76.6,8),(76.9,10),(77.2,12),(77.5,15),(77.8,20),(78.0,14),(78.3,10),(78.6,12),
 (78.9,8),(79.2,10),(79.5,6),(79.8,8),(80.1,5),(80.4,7),(80.7,10),(81.0,8),(81.3,6),(81.6,9),(81.9,7),(82.2,5),(82.5,8),
 (82.8,6),(83.1,9),(83.4,6),(83.7,10),(84.0,8),(84.2,15),(84.4,7),(84.7,10),(85.0,6),(85.3,8),(85.6,5),(85.9,7),(86.2,4),
 (86.5,6),(86.8,3),(87.1,5),(87.4,7),(87.7,5),(88.0,8),(88.3,6),(88.6,10),(88.9,6),(89.2,8),(89.5,14),(89.8,8),(90.1,10),
 (90.4,6),(90.7,12),(91.0,8),(91.3,10),(91.6,6),(91.9,9),(92.2,7),(92.5,10),(92.8,6),(93.1,8),(93.4,5),(93.7,9),(94.0,7),
 (94.3,10),(94.6,6),(94.9,8),(95.2,10),(95.5,7),(95.8,9),(96.1,6),(96.4,10),(96.7,7),(97.0,9),(97.3,6),(97.6,10),(97.9,7),
 (98.2,15),(98.5,25),(98.65,8),(98.9,6),(99.2,4),(99.5,6),(99.8,3),(100.1,5),(100.4,3),(100.7,6),(101.0,2),(101.3,4),
 (101.6,2),(101.9,5),(102.2,8),(102.5,10),(102.8,6),(103.1,12),(103.4,8),(103.7,14),(104.0,10),(104.3,12),(104.6,8),
 (104.9,14),(105.2,10),(105.5,12),(105.8,14),(106.1,15),(106.4,12),(106.7,10),(107.0,8),(107.3,6),(107.6,8),(107.9,5),
 (108.2,7),(108.5,4),(108.8,5),(109.1,3),(109.4,4),(109.7,2),(110.0,3),(110.3,1),(110.6,3),(110.9,2),(111.2,4),(111.5,2),
 (111.8,3),(112.1,1),(112.4,3),(112.7,2),(113.0,4),(113.3,2),(113.6,5),(113.9,3),(114.2,5),(114.5,4),(114.9,18),(115.05,5),
 (115.3,6),(115.6,4),(115.9,8),(116.2,6),(116.5,10),(116.8,7),(117.1,9),(117.4,6),(117.7,12),(118.0,8),(118.3,10),(118.6,7),
 (118.9,8),(119.2,10),(119.5,7),(119.8,12),(120.1,9),(120.4,10),(120.7,8),(120.9,30),(121.05,12),(121.3,10),(121.6,15),
 (121.9,10),(122.2,12),(122.5,8),(122.8,14),(123.1,10),(123.4,15),(123.7,12),(124.0,20),(124.2,14),(124.5,10),(124.8,12),
 (125.1,8),(125.4,10),(125.7,6),(126.0,12),(126.3,8),(126.6,10),(126.9,6),(127.2,9),(127.5,5),(127.8,8),(128.1,6),(128.4,10),
 (128.7,7),(129.0,12),(129.3,8),(129.6,14),(129.9,22),(130.1,8),(130.3,12),(130.5,10)]

BLUE = "#0000FF"
RED = "#FF0000"
SERIF = "Liberation Serif"


def src(pairs):
    t = np.array([p[0] for p in pairs], dtype=float)
    v = np.array([p[1] for p in pairs], dtype=float)
    return ColumnDataSource(dict(t=t, v=v))


def make_panel(frame_h, top, bottom, ymax, yticks, ylabel, standoff, chi, hol,
               legend_xy, xaxis_w=1, xstandoff=6):
    p = figure(frame_width=760, frame_height=frame_h, x_range=Range1d(0, 130.5),
               y_range=Range1d(0, ymax), output_backend="svg", toolbar_location=None,
               min_border_left=92, min_border_right=19, min_border_top=top,
               min_border_bottom=bottom)
    p.grid.visible = False
    p.outline_line_color = "#9a9a9a"
    p.outline_line_width = 1
    p.background_fill_color = "white"
    p.border_fill_color = "white"

    rc = p.line("t", "v", source=src(chi), line_color=BLUE, line_width=1, line_dash="2 1")
    rh = p.line("t", "v", source=src(hol), line_color=RED, line_width=1.1)

    xa = p.xaxis[0]
    xa.ticker = FixedTicker(ticks=tick_days)
    xa.major_label_overrides = dict(zip(tick_days, tick_labels))
    ya = p.yaxis[0]
    ya.ticker = FixedTicker(ticks=yticks)
    for ax in (xa, ya):
        ax.axis_line_color = "black"
        ax.major_tick_line_color = "black"
        ax.major_tick_in = 0
        ax.major_tick_out = 5
        ax.minor_tick_line_color = None
        ax.major_label_text_font = SERIF
        ax.major_label_text_font_style = "bold"
        ax.major_label_text_font_size = "19px"
        ax.major_label_text_color = "black"
    xa.axis_line_width = xaxis_w
    xa.major_label_standoff = xstandoff
    xa.major_label_text_line_height = 1.2
    ya.major_label_standoff = 15
    ya.axis_label = ylabel
    ya.axis_label_text_font = SERIF
    ya.axis_label_text_font_style = "bold"
    ya.axis_label_text_font_size = "22px"
    ya.axis_label_text_color = "black"
    ya.axis_label_standoff = standoff

    leg = Legend(items=[LegendItem(label="Chicago", renderers=[rc]),
                        LegendItem(label="Holland", renderers=[rh])],
                 orientation="horizontal", location=legend_xy,
                 label_text_font=SERIF, label_text_font_style="bold",
                 label_text_font_size="21px", label_text_color="black",
                 glyph_width=34, glyph_height=20, label_height=20, label_standoff=4,
                 spacing=17, padding=0, margin=0,
                 border_line_color=None, background_fill_alpha=0)
    p.add_layout(leg)
    return p


def note(p, x, y, text, align="left"):
    p.add_layout(Label(x=x, y=y, text=text, text_font=SERIF, text_font_style="bold",
                       text_font_size="15px", text_color="black",
                       text_baseline="middle", text_align=align))


def arrow(p, x0, y0, x1, y1):
    p.add_layout(Arrow(end=OpenHead(size=9, line_width=1, line_color="black"),
                       x_start=x0, y_start=y0, x_end=x1, y_end=y1,
                       line_color="black", line_width=1))


p1 = make_panel(259, 17, 64, 12, [0, 2, 4, 6, 8, 10, 12], "Hg\u2070Concentration (ng/m\u00b3)",
                12, chicago_hg0, holland_hg0, (508, 226))
note(p1, 44.3, 10.94, "16.5 ng/m\u00b3")
arrow(p1, 43.8, 11.5, 41.75, 11.95)

p2 = make_panel(260, 23, 76, 500, [0, 100, 200, 300, 400, 500], "RGM Concentration (pg/m\u00b3)",
                9, chicago_rgm, holland_rgm, (16, 226), xaxis_w=2)
note(p2, 80.0, 448, "681 pg/m\u00b3")
arrow(p2, 79.3, 464, 77.85, 491)
note(p2, 98.6, 448, "2707 pg/m\u00b3")
arrow(p2, 97.8, 462, 96.3, 490)

p3 = make_panel(253, 22, 56, 250, [0, 50, 100, 150, 200, 250], "Hg\u209a Concentration (pg/m\u00b3)",
                8, chicago_hgp, holland_hgp, (16, 221), xstandoff=2)
note(p3, 120.2, 223, "401 pg/m\u00b3", align="right")
arrow(p3, 120.7, 233, 122.6, 244.8)

layout = column(p1, p2, p3, spacing=0)
open("out.html", "w").write(file_html(layout, INLINE))
